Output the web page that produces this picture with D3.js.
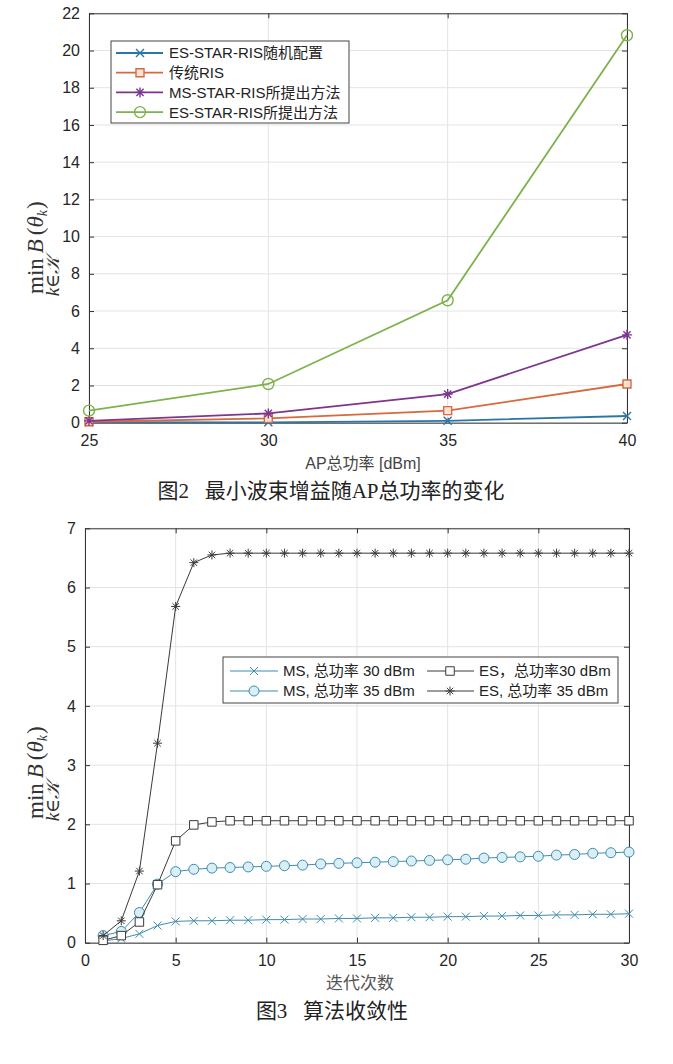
<!DOCTYPE html>
<html><head><meta charset="utf-8">
<script src="https://cdn.jsdelivr.net/npm/d3@7"></script>
<style>
html,body{margin:0;padding:0;background:#fff;}
svg{display:block;font-family:"Liberation Sans","Noto Sans CJK SC",sans-serif;}
</style></head>
<body>
<svg id="c" width="673" height="1064"></svg>
<script>
// ---------- DATA: Figure 2 ----------
const powerLevels = [25, 30, 35, 40];
const fig2SeriesNames = ["ES-STAR-RIS随机配置", "传统RIS", "MS-STAR-RIS所提出方法", "ES-STAR-RIS所提出方法"];
const esRandom   = [0.03, 0.02, 0.10, 0.36];
const conventional = [0.05, 0.23, 0.65, 2.08];
const msProposed = [0.10, 0.50, 1.54, 4.72];
const esProposed = [0.65, 2.08, 6.58, 20.82];
const fig2YTicks = [0, 2, 4, 6, 8, 10, 12, 14, 16, 18, 20, 22];
const fig2XTicks = [25, 30, 35, 40];

// ---------- DATA: Figure 3 ----------
const iterations = d3.range(1, 31);
const fig3SeriesNames = ["MS, 总功率 30 dBm", "MS, 总功率 35 dBm", "ES，总功率30 dBm", "ES, 总功率 35 dBm"];
const ms30 = [0.03,0.07,0.15,0.29,0.36,0.37,0.37,0.38,0.38,0.39,0.39,0.40,0.40,0.41,0.41,0.42,0.42,0.43,0.43,0.44,0.44,0.45,0.45,0.46,0.46,0.47,0.47,0.48,0.48,0.49];
const ms35 = [0.12,0.19,0.51,0.99,1.20,1.24,1.26,1.27,1.28,1.29,1.30,1.31,1.33,1.34,1.35,1.36,1.37,1.38,1.39,1.40,1.41,1.43,1.44,1.45,1.46,1.48,1.49,1.51,1.52,1.53];
const es30 = [0.04,0.12,0.35,0.98,1.72,1.99,2.04,2.06,2.06,2.06,2.06,2.06,2.06,2.06,2.06,2.06,2.06,2.06,2.06,2.06,2.06,2.06,2.06,2.06,2.06,2.06,2.06,2.06,2.06,2.06];
const es35 = [0.12,0.37,1.21,3.37,5.68,6.42,6.55,6.58,6.58,6.58,6.58,6.58,6.58,6.58,6.58,6.58,6.58,6.58,6.58,6.58,6.58,6.58,6.58,6.58,6.58,6.58,6.58,6.58,6.58,6.58];
const fig3YTicks = [0, 1, 2, 3, 4, 5, 6, 7];
const fig3XTicks = [0, 5, 10, 15, 20, 25, 30];

const svg = d3.select("#c");
const axisCol = "#333";
const gridCol = "#e3e3e3";
const SERIF = '"Liberation Serif", "DejaVu Serif", serif';
const CAPTION = '"Liberation Serif", "Noto Sans CJK SC", serif';

function markerPath(type, s) {
  const h = s / 2;
  if (type === "x") return `M${-h},${-h}L${h},${h}M${-h},${h}L${h},${-h}`;
  if (type === "*") {
    const d = h * 0.72;
    return `M${-h},0L${h},0M0,${-h}L0,${h}M${-d},${-d}L${d},${d}M${-d},${d}L${d},${-d}`;
  }
  if (type === "s") return `M${-h},${-h}H${h}V${h}H${-h}Z`;
  return null;
}
function drawMarker(g, type, x, y, s, color, fill, sw) {
  if (type === "o") {
    g.append("circle").attr("cx", x).attr("cy", y).attr("r", s / 2)
      .attr("fill", fill).attr("stroke", color).attr("stroke-width", sw);
  } else {
    g.append("path").attr("transform", `translate(${x},${y})`).attr("d", markerPath(type, s))
      .attr("fill", type === "s" ? fill : "none").attr("stroke", color).attr("stroke-width", sw);
  }
}

function drawAxes(cfg) {
  const { x, y, xTicks, yTicks } = cfg;
  const [x0, x1] = x.range(), [y0, y1] = y.range();
  const g = svg.append("g");
  g.selectAll(null).data(xTicks).join("line")
    .attr("x1", d => x(d)).attr("x2", d => x(d)).attr("y1", y0).attr("y2", y1)
    .attr("stroke", gridCol).attr("stroke-width", 1);
  g.selectAll(null).data(yTicks).join("line")
    .attr("y1", d => y(d)).attr("y2", d => y(d)).attr("x1", x0).attr("x2", x1)
    .attr("stroke", gridCol).attr("stroke-width", 1);
  const fmt = d3.format("d");
  const xa = svg.append("g").attr("transform", `translate(0,${y0})`)
    .call(d3.axisBottom(x).tickValues(xTicks).tickFormat(fmt).tickSizeInner(-5).tickSizeOuter(0).tickPadding(12));
  const xt = svg.append("g").attr("transform", `translate(0,${y1})`)
    .call(d3.axisTop(x).tickValues(xTicks).tickSizeInner(-5).tickSizeOuter(0).tickFormat(""));
  const ya = svg.append("g").attr("transform", `translate(${x0},0)`)
    .call(d3.axisLeft(y).tickValues(yTicks).tickFormat(fmt).tickSizeInner(-5).tickSizeOuter(0).tickPadding(9));
  const yr = svg.append("g").attr("transform", `translate(${x1},0)`)
    .call(d3.axisRight(y).tickValues(yTicks).tickSizeInner(-5).tickSizeOuter(0).tickFormat(""));
  [xa, xt, ya, yr].forEach(a => {
    a.selectAll("path.domain").attr("stroke", axisCol).attr("stroke-width", 1);
    a.selectAll(".tick line").attr("stroke", axisCol);
    a.selectAll("text").attr("fill", "#262626").style("font-size", "16px")
      .style("font-family", '"Liberation Sans", sans-serif');
  });
  return g;
}

function yLabel(yStart, baseX) {
  const g = svg.append("g").attr("transform", `translate(${baseX},${yStart}) rotate(-90)`);
  const t = g.append("text").attr("x", 0).attr("y", 0)
    .style("font-family", SERIF).style("font-size", "23px").attr("fill", "#333");
  const minT = t.append("tspan").text("min");
  t.append("tspan").attr("dx", 5).style("font-style", "italic").text("B");
  t.append("tspan").attr("dx", 4).text("(");
  t.append("tspan").style("font-style", "italic").text("θ");
  t.append("tspan").style("font-style", "italic").style("font-size", "14px").attr("dy", 4).text("k");
  t.append("tspan").attr("dy", -4).attr("dx", 1).text(")");
  const minW = minT.node().getComputedTextLength();
  const s = g.append("text").attr("x", minW / 2).attr("y", 16).attr("text-anchor", "middle")
    .style("font-family", SERIF).style("font-size", "19px").attr("fill", "#333");
  s.append("tspan").style("font-style", "italic").text("k");
  s.append("tspan").text("∈");
  s.append("tspan").style("font-family", '"DejaVu Serif", serif').style("font-style", "italic").text("𝒦");
}

// ================= FIGURE 2 =================
{
  const x = d3.scaleLinear().domain([25, 40]).range([89, 627]);
  const y = d3.scaleLinear().domain([0, 22]).range([422.7, 13.3]);
  drawAxes({ x, y, xTicks: fig2XTicks, yTicks: fig2YTicks });
  const series = [
    { name: fig2SeriesNames[0], vals: esRandom, color: "#2b76a6", m: "x", ms: 8, fill: "none" },
    { name: fig2SeriesNames[1], vals: conventional, color: "#d8693f", m: "s", ms: 8, fill: "#fbe3d6" },
    { name: fig2SeriesNames[2], vals: msProposed, color: "#7d3590", m: "*", ms: 10, fill: "none" },
    { name: fig2SeriesNames[3], vals: esProposed, color: "#7db24c", m: "o", ms: 11, fill: "none" }
  ];
  const line = d3.line().x((d, i) => x(powerLevels[i])).y(d => y(d));
  const g = svg.append("g");
  series.forEach(s => {
    g.append("path").attr("d", line(s.vals)).attr("fill", "none")
      .attr("stroke", s.color).attr("stroke-width", 1.8);
    s.vals.forEach((v, i) => drawMarker(g, s.m, x(powerLevels[i]), y(v), s.ms, s.color, s.fill, 1.4));
  });
  const lg = svg.append("g");
  lg.append("rect").attr("x", 111).attr("y", 41).attr("width", 238).attr("height", 82)
    .attr("fill", "#fff").attr("stroke", "#444").attr("stroke-width", 1);
  series.forEach((s, i) => {
    const yy = 53 + i * 19.7;
    lg.append("line").attr("x1", 116).attr("x2", 163).attr("y1", yy).attr("y2", yy)
      .attr("stroke", s.color).attr("stroke-width", 1.8);
    drawMarker(lg, s.m, 140, yy, s.ms, s.color, s.fill, 1.4);
    lg.append("text").attr("x", 169).attr("y", yy).attr("dy", "0.36em")
      .style("font-size", "15px").attr("fill", "#222").text(s.name);
  });
  svg.append("text").attr("x", 363).attr("y", 463).attr("dy", "0.36em").attr("text-anchor", "middle")
    .style("font-size", "16px").attr("fill", "#444").text("AP总功率 [dBm]");
  yLabel(294, 43);
  svg.append("text").attr("x", 331).attr("y", 490).attr("dy", "0.36em").attr("text-anchor", "middle")
    .style("font-family", CAPTION).style("font-size", "21px").attr("fill", "#222")
    .style("white-space", "pre").text("图2   最小波束增益随AP总功率的变化");
}

// ================= FIGURE 3 =================
{
  const x = d3.scaleLinear().domain([0, 30]).range([85, 629]);
  const y = d3.scaleLinear().domain([0, 7]).range([942.7, 528.3]);
  drawAxes({ x, y, xTicks: fig3XTicks, yTicks: fig3YTicks });
  const msCol = "#3f8cae", esCol = "#3a3a3a";
  const series = [
    { name: fig3SeriesNames[0], vals: ms30, color: msCol, m: "x", ms: 8, fill: "none" },
    { name: fig3SeriesNames[1], vals: ms35, color: msCol, m: "o", ms: 10, fill: "#d9eef5" },
    { name: fig3SeriesNames[2], vals: es30, color: esCol, m: "s", ms: 8.5, fill: "#fff" },
    { name: fig3SeriesNames[3], vals: es35, color: esCol, m: "*", ms: 9, fill: "none" }
  ];
  const line = d3.line().x((d, i) => x(iterations[i])).y(d => y(d));
  const g = svg.append("g");
  series.forEach(s => {
    g.append("path").attr("d", line(s.vals)).attr("fill", "none")
      .attr("stroke", s.color).attr("stroke-width", 1);
    s.vals.forEach((v, i) => drawMarker(g, s.m, x(iterations[i]), y(v), s.ms, s.color, s.fill, 1));
  });
  const lg = svg.append("g");
  lg.append("rect").attr("x", 223).attr("y", 657).attr("width", 395).attr("height", 46)
    .attr("fill", "#fff").attr("stroke", "#444").attr("stroke-width", 1);
  const pos = [[230, 278, 254, 283, 671], [230, 278, 254, 283, 691], [427, 474, 450, 479, 671], [427, 474, 450, 479, 691]];
  series.forEach((s, i) => {
    const [l1, l2, mx, tx, yy] = pos[i];
    lg.append("line").attr("x1", l1).attr("x2", l2).attr("y1", yy).attr("y2", yy)
      .attr("stroke", s.color).attr("stroke-width", 1);
    drawMarker(lg, s.m, mx, yy, s.ms, s.color, s.fill, 1);
    lg.append("text").attr("x", tx).attr("y", yy).attr("dy", "0.36em")
      .style("font-size", "15px").attr("fill", "#222").style("white-space", "pre").text(s.name);
  });
  svg.append("text").attr("x", 360).attr("y", 983).attr("dy", "0.36em").attr("text-anchor", "middle")
    .style("font-size", "17px").attr("fill", "#555").text("迭代次数");
  yLabel(819, 43);
  svg.append("text").attr("x", 332).attr("y", 1010).attr("dy", "0.36em").attr("text-anchor", "middle")
    .style("font-family", CAPTION).style("font-size", "21px").attr("fill", "#222")
    .style("white-space", "pre").text("图3   算法收敛性");
}
</script>
</body></html>
